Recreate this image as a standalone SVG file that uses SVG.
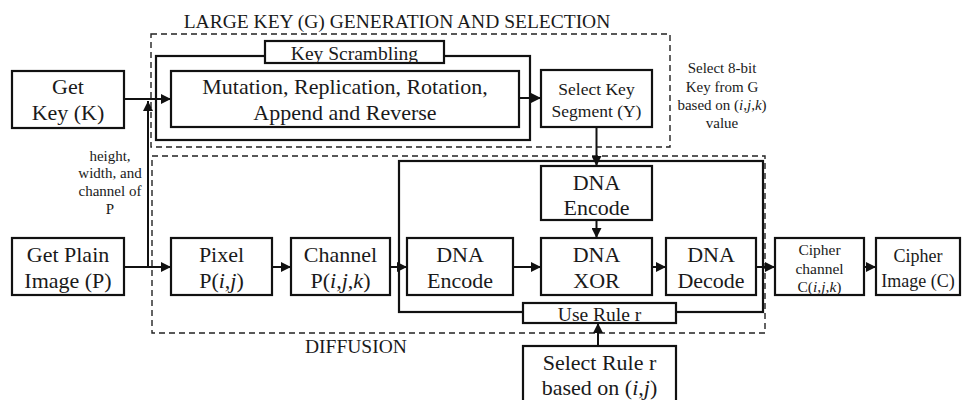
<svg xmlns="http://www.w3.org/2000/svg" width="962" height="400" viewBox="0 0 962 400">
  <defs>
    <marker id="arrow" viewBox="0 0 10 10" refX="10" refY="5" markerWidth="5" markerHeight="5" markerUnits="strokeWidth" orient="auto">
      <path d="M0,0 L10,5 L0,10 Z" fill="#111"/>
    </marker>
    <style>
      text { font-family: "Liberation Serif", "Times New Roman", serif; fill: #1a1a1a; text-anchor: middle; }
      .box { fill: #fff; stroke: #111; stroke-width: 2.2; }
      .frame { fill: none; stroke: #111; stroke-width: 2.2; }
      .dash { fill: none; stroke: #222; stroke-width: 1.4; stroke-dasharray: 6 4; }
      .conn { fill: none; stroke: #111; stroke-width: 2; marker-end: url(#arrow); }
      .plain { fill: none; stroke: #111; stroke-width: 2; }
      .big { font-size: 22px; }
      .mid { font-size: 19.5px; }
      .out { font-size: 18px; }
      .seg { font-size: 17.5px; }
      .small { font-size: 15.5px; }
      .note { font-size: 15px; }
      .it { font-style: italic; }
    </style>
  </defs>

  <!-- dashed region outlines -->
  <g id="region-keygen">
    <rect class="dash" x="151" y="34" width="519" height="113"/>
    <text class="mid" x="397" y="28">LARGE KEY (G) GENERATION AND SELECTION</text>
  </g>
  <g id="region-diffusion">
    <rect class="dash" x="152" y="156" width="613" height="177"/>
    <text class="mid" x="305" y="353" style="text-anchor:start">DIFFUSION</text>
  </g>

  <!-- key scrambling frame -->
  <g id="key-scrambling">
    <rect class="frame" x="156" y="56" width="374" height="84"/>
    <rect class="box" x="265" y="41" width="179" height="22"/>
    <text class="mid" x="354.5" y="59.5">Key Scrambling</text>
  </g>

  <g id="mutation">
    <rect class="box" x="171" y="71" width="348" height="56"/>
    <text class="big" x="345" y="93.5">Mutation, Replication, Rotation,</text>
    <text class="big" x="345" y="119.5">Append and Reverse</text>
  </g>

  <g id="get-key">
    <rect class="box" x="12" y="71" width="112" height="57"/>
    <text class="big" x="68" y="94">Get</text>
    <text class="big" x="68" y="120">Key (K)</text>
  </g>

  <g id="select-key">
    <rect class="box" x="541" y="70" width="111" height="57"/>
    <text class="seg" x="596.5" y="94.5">Select Key</text>
    <text class="seg" x="596.5" y="116.5">Segment (Y)</text>
  </g>

  <g id="note-key">
    <text class="note" x="722" y="73">Select 8-bit</text>
    <text class="note" x="722" y="91.5">Key from G</text>
    <text class="note" x="722" y="110">based on (<tspan class="it">i</tspan>,<tspan class="it">j</tspan>,<tspan class="it">k</tspan>)</text>
    <text class="note" x="722" y="127.5">value</text>
  </g>

  <g id="note-size">
    <text class="note" x="110" y="160.5">height,</text>
    <text class="note" x="110" y="178">width, and</text>
    <text class="note" x="110" y="196">channel of</text>
    <text class="note" x="110" y="213.5">P</text>
  </g>

  <!-- DNA processing frame -->
  <g id="dna-stage">
    <rect class="frame" x="399" y="161" width="364" height="151"/>
  </g>

  <g id="use-rule">
    <rect class="box" x="523" y="303" width="153" height="20"/>
    <text class="mid" x="599.5" y="320.5">Use Rule r</text>
  </g>

  <g id="get-plain">
    <rect class="box" x="12" y="238" width="112" height="57"/>
    <text class="big" x="68" y="262">Get Plain</text>
    <text class="big" x="68" y="288">Image (P)</text>
  </g>

  <g id="pixel">
    <rect class="box" x="171" y="238" width="101" height="57"/>
    <text class="big" x="221.5" y="262">Pixel</text>
    <text class="big" x="221.5" y="288">P(<tspan class="it">i</tspan>,<tspan class="it">j</tspan>)</text>
  </g>

  <g id="channel">
    <rect class="box" x="291" y="238" width="99" height="57"/>
    <text class="big" x="340.5" y="262">Channel</text>
    <text class="big" x="340.5" y="288">P(<tspan class="it">i</tspan>,<tspan class="it">j</tspan>,<tspan class="it">k</tspan>)</text>
  </g>

  <g id="dna-encode">
    <rect class="box" x="407" y="238" width="106" height="57"/>
    <text class="big" x="460" y="262">DNA</text>
    <text class="big" x="460" y="288">Encode</text>
  </g>

  <g id="dna-encode-key">
    <rect class="box" x="541" y="166" width="111" height="54"/>
    <text class="big" x="596.5" y="190">DNA</text>
    <text class="big" x="596.5" y="215">Encode</text>
  </g>

  <g id="dna-xor">
    <rect class="box" x="541" y="238" width="111" height="57"/>
    <text class="big" x="596.5" y="262">DNA</text>
    <text class="big" x="596.5" y="288">XOR</text>
  </g>

  <g id="dna-decode">
    <rect class="box" x="666" y="238" width="90" height="57"/>
    <text class="big" x="711" y="262">DNA</text>
    <text class="big" x="711" y="288">Decode</text>
  </g>

  <g id="cipher-channel">
    <rect class="box" x="775" y="238" width="89" height="57"/>
    <text class="small" x="819.5" y="255">Cipher</text>
    <text class="small" x="819.5" y="273.5">channel</text>
    <text class="small" x="819.5" y="292">C(<tspan class="it">i</tspan>,<tspan class="it">j</tspan>,<tspan class="it">k</tspan>)</text>
  </g>

  <g id="cipher-image">
    <rect class="box" x="876" y="238" width="84" height="57"/>
    <text class="out" x="918" y="261.5">Cipher</text>
    <text class="out" x="918" y="286.5">Image (C)</text>
  </g>

  <g id="select-rule">
    <rect class="box" x="523" y="346" width="153" height="60"/>
    <text class="big" x="599.5" y="369.5">Select Rule r</text>
    <text class="big" x="599.5" y="395">based on (<tspan class="it">i</tspan>,<tspan class="it">j</tspan>)</text>
  </g>

  <!-- connectors -->
  <g id="connectors">
    <path class="conn" d="M124,99 H171"/>
    <path class="plain" d="M124,267 H148"/>
    <path class="conn" d="M148,267 V101"/>
    <path class="conn" d="M148,267 H171"/>
    <path class="conn" d="M519,98 H541"/>
    <path class="conn" d="M596.5,127 V166"/>
    <path class="conn" d="M272,267 H291"/>
    <path class="conn" d="M390,267 H407"/>
    <path class="conn" d="M513,267 H541"/>
    <path class="conn" d="M596.5,220 V238"/>
    <path class="conn" d="M652,267 H666"/>
    <path class="conn" d="M756,267 H775"/>
    <path class="conn" d="M864,267 H876"/>
    <path class="conn" d="M598,346 V323"/>
  </g>
</svg>
